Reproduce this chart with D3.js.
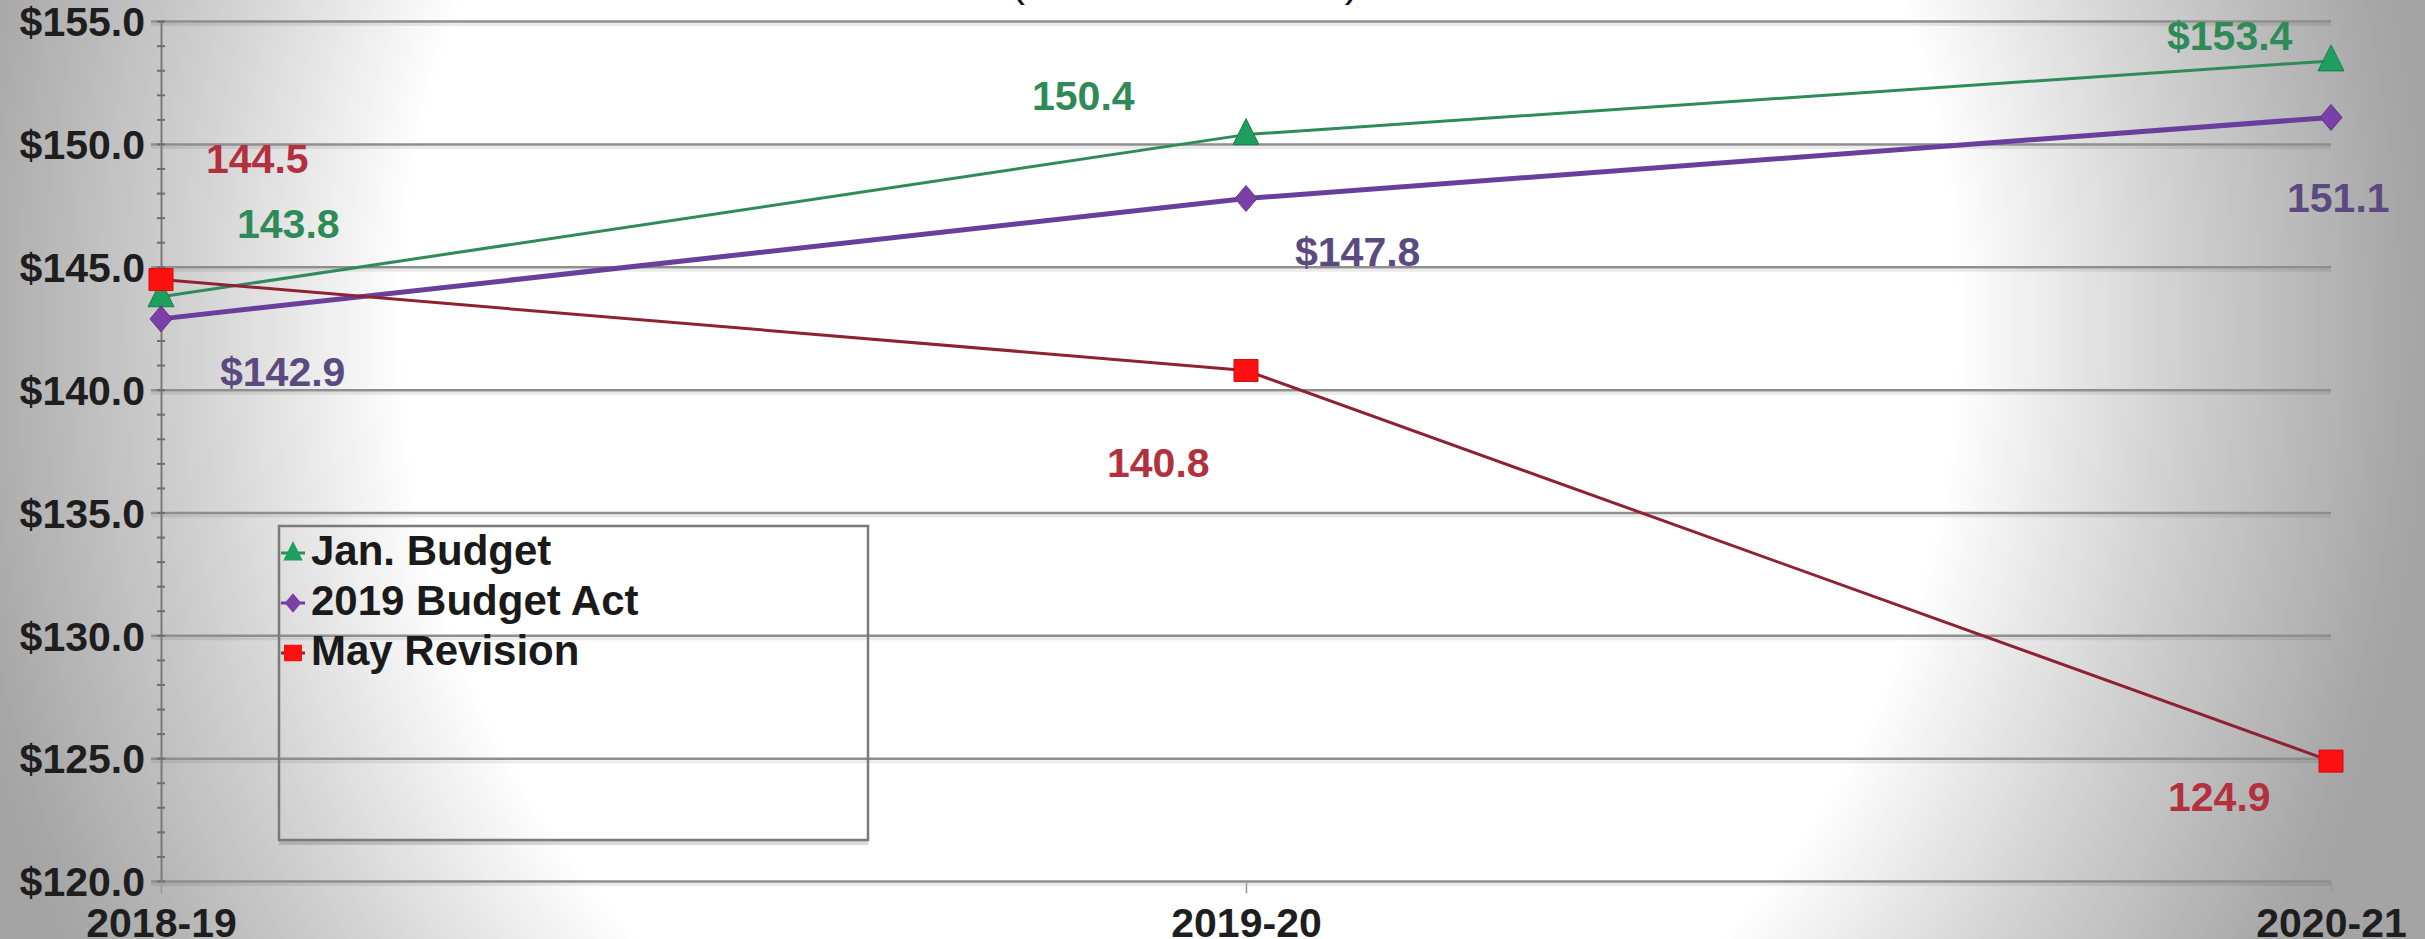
<!DOCTYPE html>
<html>
<head>
<meta charset="utf-8">
<script src="https://cdn.jsdelivr.net/npm/d3@7/dist/d3.min.js"></script>
<style>
  html, body { margin: 0; padding: 0; background: #fff; }
  svg { display: block; }
  text { font-family: "Liberation Sans", Arial, sans-serif; }
</style>
</head>
<body>
<svg id="chart" width="2425" height="939"></svg>
<script>
// ---------------- data ----------------
const categories = ["2018-19", "2019-20", "2020-21"];
const seriesNames = ["Jan. Budget", "2019 Budget Act", "May Revision"];
const janBudget = [143.8, 150.4, 153.4];
const budgetAct = [142.9, 147.8, 151.1];
const mayRevision = [144.5, 140.8, 124.9];
const janPrefix = ["", "", "$"];
const actPrefix = ["$", "$", ""];
const mayPrefix = ["", "", ""];
const yTicks = [120, 125, 130, 135, 140, 145, 150, 155];
const yDomain = [120, 155];
const titleText = "(Dollars in Billions)";

// ---------------- layout / style ----------------
const W = 2425, H = 939;
const plot = { left: 161, right: 2331, top: 21.6, bottom: 881.5 };
const labelFont = 41;

const series = [
  { name: seriesNames[0], values: janBudget, prefix: janPrefix, line: "#2f8a5c", lineW: 3,
    marker: "#1f9f5f", label: "#2e8b57", shape: "triangle",
    offsets: [[76, -59], [-214, -25], [-164, -11]] },
  { name: seriesNames[1], values: budgetAct, prefix: actPrefix, line: "#6a3e9c", lineW: 5,
    marker: "#7b3fa8", label: "#5a4a80", shape: "diamond",
    offsets: [[59, 67], [49, 68], [-44, 95]] },
  { name: seriesNames[2], values: mayRevision, prefix: mayPrefix, line: "#8e2232", lineW: 3,
    marker: "#ff1010", label: "#b3303e", shape: "square",
    offsets: [[45, -107], [-139, 107], [-163, 50]] }
];

const svg = d3.select("#chart");
const defs = svg.append("defs");

// background: elliptical white centre fading to grey edges
const cx = 1180, cy = 325;
const rg = defs.append("radialGradient")
  .attr("id", "bg")
  .attr("gradientUnits", "userSpaceOnUse")
  .attr("cx", cx).attr("cy", cy).attr("r", 1250)
  .attr("fx", cx).attr("fy", cy)
  .attr("gradientTransform", `translate(${cx},${cy}) scale(1,1.1) translate(${-cx},${-cy})`);
rg.append("stop").attr("offset", 0).attr("stop-color", "#ffffff");
rg.append("stop").attr("offset", 0.62).attr("stop-color", "#ffffff");
rg.append("stop").attr("offset", 0.80).attr("stop-color", "#d0d0d0");
rg.append("stop").attr("offset", 0.97).attr("stop-color", "#a9a9a9");
rg.append("stop").attr("offset", 1).attr("stop-color", "#a4a4a4");

svg.append("rect").attr("width", W).attr("height", H).attr("fill", "url(#bg)");

// scales
const x = d3.scalePoint().domain(categories).range([plot.left, plot.right]);
const y = d3.scaleLinear().domain(yDomain).range([plot.bottom, plot.top]);

// title (mostly above the visible area)
svg.append("text")
  .attr("x", 1185).attr("y", -4)
  .attr("text-anchor", "middle")
  .attr("font-size", 42)
  .attr("fill", "#111")
  .text(titleText);

// gridlines
const grid = svg.append("g");
grid.selectAll("line.shadow").data(yTicks).join("line")
  .attr("class", "shadow")
  .attr("x1", plot.left - 10).attr("x2", plot.right)
  .attr("y1", d => y(d) + 3).attr("y2", d => y(d) + 3)
  .attr("stroke", "#000").attr("stroke-opacity", 0.08).attr("stroke-width", 3);
grid.selectAll("line.main").data(yTicks).join("line")
  .attr("class", "main")
  .attr("x1", plot.left - 10).attr("x2", plot.right)
  .attr("y1", d => y(d)).attr("y2", d => y(d))
  .attr("stroke", "#8e8e8e").attr("stroke-width", 2.5);

// y axis with minor ticks
const yMinor = d3.range(yDomain[0], yDomain[1] + 0.001, 1);
const yAxisG = svg.append("g").attr("transform", `translate(${plot.left},0)`);
yAxisG.call(d3.axisLeft(y).tickValues(yMinor).tickSize(0).tickFormat(""));
yAxisG.select(".domain").attr("stroke", "#7a7a7a").attr("stroke-width", 2);
yAxisG.selectAll(".minor").data(yMinor).join("line")
  .attr("class", "minor")
  .attr("x1", -4).attr("x2", 4)
  .attr("y1", d => y(d)).attr("y2", d => y(d))
  .attr("stroke", "#6e6e6e").attr("stroke-width", 2);
yAxisG.selectAll(".ylab").data(yTicks).join("text")
  .attr("class", "ylab")
  .attr("x", -16).attr("y", d => y(d))
  .attr("dy", "0.36em")
  .attr("text-anchor", "end")
  .attr("font-size", labelFont).attr("font-weight", "bold")
  .attr("fill", "#1e1e1e")
  .text(d => "$" + d3.format(".1f")(d));

// x axis
const xAxisG = svg.append("g").attr("transform", `translate(0,${plot.bottom})`);
xAxisG.call(d3.axisBottom(x).tickSize(12).tickPadding(14));
xAxisG.select(".domain").remove();
xAxisG.selectAll(".tick line").attr("stroke", "#9a9a9a").attr("stroke-width", 1.5);
xAxisG.selectAll(".tick text")
  .attr("font-family", "'Liberation Sans', Arial, sans-serif")
  .attr("font-size", labelFont).attr("font-weight", "bold")
  .attr("fill", "#1e1e1e")
  .attr("dy", "0.71em");

// lines
const lineGen = d3.line().x((d, i) => x(categories[i])).y(d => y(d));
series.forEach(s => {
  svg.append("path")
    .datum(s.values)
    .attr("d", lineGen)
    .attr("fill", "none")
    .attr("stroke", s.line)
    .attr("stroke-width", s.lineW)
    .attr("stroke-linejoin", "round");
});

// markers
function markerPath(shape, scale) {
  const k = scale || 1;
  if (shape === "triangle") {
    const hw = 13 * k, top = -16 * k, bot = 10 * k;
    return `M0,${top}L${hw},${bot}L${-hw},${bot}Z`;
  }
  if (shape === "diamond") {
    const hw = 11 * k, hh = 13 * k;
    return `M0,${-hh}L${hw},0L0,${hh}L${-hw},0Z`;
  }
  const hw = 12 * k, hh = 11 * k;
  return `M${-hw},${-hh}H${hw}V${hh}H${-hw}Z`;
}
series.forEach(s => {
  svg.append("g").selectAll("path").data(s.values).join("path")
    .attr("transform", (d, i) => `translate(${x(categories[i])},${y(d)})`)
    .attr("d", markerPath(s.shape))
    .attr("fill", s.marker)
    .attr("stroke", d3.color(s.marker).darker(0.6))
    .attr("stroke-width", 1);
});

// value labels
series.forEach(s => {
  svg.append("g").selectAll("text").data(s.values).join("text")
    .attr("x", (d, i) => x(categories[i]) + s.offsets[i][0])
    .attr("y", (d, i) => y(d) + s.offsets[i][1])
    .attr("font-size", labelFont).attr("font-weight", "bold")
    .attr("fill", s.label)
    .text((d, i) => s.prefix[i] + d3.format(".1f")(d));
});

// legend
const lg = svg.append("g");
lg.append("line")
  .attr("x1", 279).attr("x2", 868).attr("y1", 843).attr("y2", 843)
  .attr("stroke", "#000").attr("stroke-opacity", 0.15).attr("stroke-width", 4);
lg.append("rect")
  .attr("x", 279).attr("y", 526).attr("width", 589).attr("height", 314)
  .attr("fill", "none").attr("stroke", "#7a7a7a").attr("stroke-width", 2.5);
const rows = lg.selectAll("g.item").data(series).join("g")
  .attr("class", "item")
  .attr("transform", (d, i) => `translate(293,${565 + i * 50})`);
rows.append("line")
  .attr("x1", -12).attr("x2", 12).attr("y1", -12).attr("y2", -12)
  .attr("stroke", d => d.line).attr("stroke-width", 3);
rows.append("path")
  .attr("transform", "translate(0,-12)")
  .attr("d", d => markerPath(d.shape, 0.75))
  .attr("fill", d => d.marker);
rows.append("text")
  .attr("x", 18).attr("y", 0)
  .attr("font-size", 42).attr("font-weight", "bold")
  .attr("fill", "#1a1a1a")
  .text(d => d.name);
</script>
</body>
</html>
